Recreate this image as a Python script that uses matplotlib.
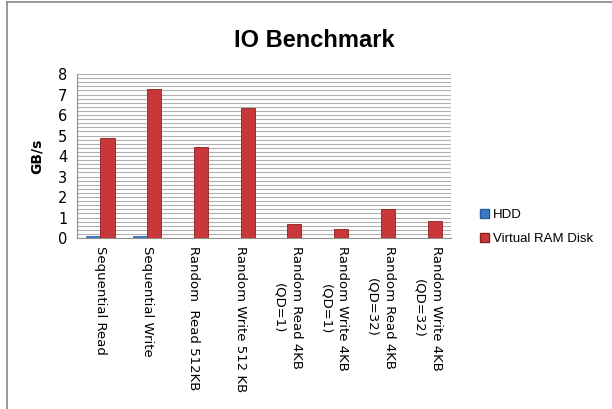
#!/usr/bin/env python3

import numpy as np
import matplotlib
matplotlib.use("Agg")
import matplotlib.pyplot as plt
from matplotlib.lines import Line2D
from matplotlib.patches import Patch

categories = ["Sequential Read", "Sequential Write", "Random  Read 512KB",
              "Random Write 512 KB", "Random Read 4KB\n(QD=1)",
              "Random Write 4KB\n(QD=1)", "Random Read 4KB\n(QD=32)",
              "Random Write 4KB\n(QD=32)"]
hdd = [0.10, 0.10, 0.02, 0.02, 0.005, 0.005, 0.005, 0.005]
ramdisk = [4.86, 7.25, 4.42, 6.34, 0.67, 0.45, 1.40, 0.85]
series_names = ["HDD", "Virtual RAM Disk"]

fig = plt.figure(figsize=(6.12, 4.09), dpi=100)
ax = fig.add_axes([0.126, 0.418, 0.611, 0.401])

x = np.arange(len(categories))
w = 0.3
ax.bar(x - w/2, hdd, w, color="#3b78c9", edgecolor="#2a5a9e", linewidth=0.5, zorder=3)
ax.bar(x + w/2, ramdisk, w, color="#c8383a", edgecolor="#8e1f20", linewidth=0.6, zorder=3)

ax.set_xlim(-0.5, len(categories) - 0.5)
ax.set_ylim(0, 8)
ax.set_yticks(range(0, 9))
ax.set_yticks(np.arange(0, 8.01, 0.2), minor=True)
ax.yaxis.grid(True, which="both", color="#b0b0b0", linewidth=0.8, zorder=0)
ax.tick_params(axis="y", which="both", length=0, labelsize=10.5, pad=7)
ax.tick_params(axis="x", length=0, pad=6)
ax.set_xticks(x)
ax.set_xticklabels(categories, rotation=-90, ha="center", va="top",
                   fontsize=9.5, linespacing=1.45)

for s in ["top", "right"]:
    ax.spines[s].set_visible(False)
ax.spines["left"].set_color("#909090")
ax.spines["bottom"].set_color("#909090")

ax.set_ylabel("GB/s", fontsize=10, fontweight="bold", labelpad=10)
fig.text(0.513, 0.9, "IO Benchmark", ha="center", va="center",
         fontsize=17, fontweight="bold", family="Liberation Sans")

handles = [Patch(facecolor="#3b78c9", edgecolor="#2a5a9e"),
           Patch(facecolor="#c8383a", edgecolor="#8e1f20")]
fig.legend(handles, series_names, loc="center left", bbox_to_anchor=(0.765, 0.445),
           frameon=False, handlelength=0.7, handleheight=0.7, handletextpad=0.25,
           labelspacing=0.9, prop={"family": "Liberation Sans", "size": 9.5})

# outer chart border (top and left visible)
fig.add_artist(Line2D([0.0115, 0.0115], [0, 0.995], color="#888888", linewidth=1.2))
fig.add_artist(Line2D([0.0115, 1.0], [0.995, 0.995], color="#888888", linewidth=1.2))

plt.savefig("out.png", dpi=100)
